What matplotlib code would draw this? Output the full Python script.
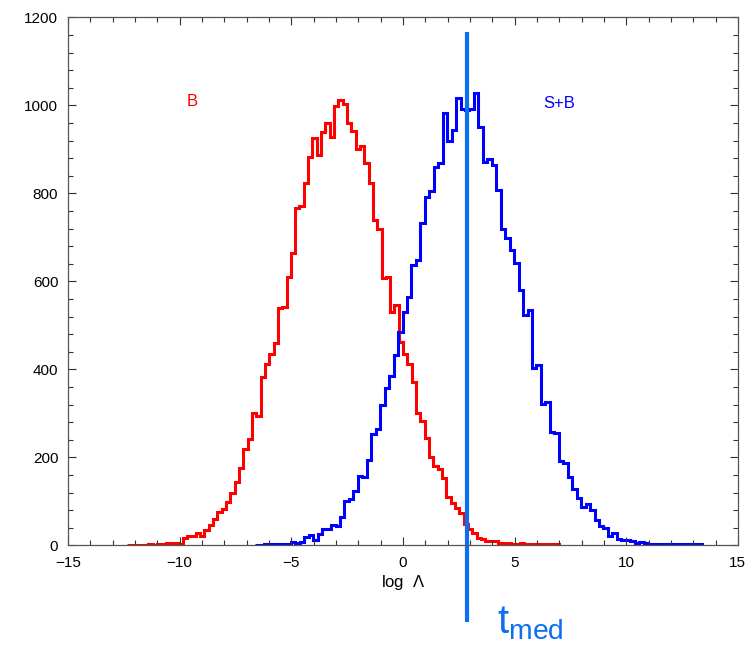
import numpy as np
import matplotlib
matplotlib.use("Agg")
import matplotlib.pyplot as plt

plt.rcParams['font.family'] = ['Liberation Sans', 'DejaVu Sans']
plt.rcParams['mathtext.fontset'] = 'custom'
plt.rcParams['mathtext.rm'] = 'Liberation Sans'

# bin edges of the two histograms (100 bins each)
b_edges = np.linspace(-12.37, 6.97, 101)
sb_edges = np.linspace(-6.62, 13.38, 101)

# counts, background only (B)
b_counts = [1, 1, 0, 1, 1, 2, 1, 2, 2, 5,
            6, 5, 3, 16, 20, 21, 28, 20, 35, 45,
            59, 76, 82, 99, 120, 145, 175, 218, 241, 300,
            294, 383, 412, 435, 461, 539, 541, 611, 665, 768,
            772, 823, 883, 927, 887, 940, 960, 929, 998, 1012,
            1003, 960, 942, 902, 908, 870, 824, 739, 719, 607,
            610, 530, 546, 463, 436, 412, 372, 301, 283, 243,
            201, 180, 173, 152, 110, 97, 84, 73, 48, 38,
            27, 16, 14, 10, 9, 10, 6, 6, 5, 3,
            4, 5, 3, 3, 2, 3, 2, 2, 4, 3]

# counts, signal + background (S+B)
sb_counts = [1, 1, 2, 2, 2, 3, 3, 4, 8, 5,
             8, 18, 23, 12, 25, 38, 38, 46, 43, 64,
             101, 106, 124, 157, 156, 195, 253, 264, 319, 357,
             385, 432, 484, 531, 565, 637, 648, 733, 792, 806,
             859, 870, 982, 919, 945, 1016, 993, 990, 993, 1029,
             951, 872, 879, 864, 808, 720, 698, 671, 642, 580,
             523, 536, 404, 411, 322, 325, 258, 255, 192, 188,
             156, 127, 107, 88, 94, 80, 57, 44, 39, 21,
             29, 14, 12, 12, 10, 6, 8, 6, 4, 3,
             4, 3, 2, 2, 2, 4, 3, 2, 2, 2]

t_med = 2.87
med_color = '#0b6ff2'

fig = plt.figure(figsize=(7.56, 6.48), dpi=100)
ax = fig.add_axes([0.09, 0.1585, 0.886, 0.8145])

ax.stairs(b_counts, b_edges, color='#ff0000', linewidth=2.2)
ax.stairs(sb_counts, sb_edges, color='#0000ff', linewidth=2.2)

ax.set_xlim(-15, 15)
ax.set_ylim(0, 1200)
ax.set_xticks(np.arange(-15, 16, 5))
ax.set_xticks(np.arange(-15, 16, 1), minor=True)
ax.set_yticks(np.arange(0, 1201, 200))
ax.set_yticks(np.arange(0, 1201, 40), minor=True)
ax.tick_params(which='both', direction='in', top=True, right=True,
               labelsize=11, color='#333333')
ax.tick_params(which='major', length=6, width=0.8)
ax.tick_params(which='minor', length=3.5, width=0.8)
ax.tick_params(axis='x', which='major', pad=8)
ax.tick_params(axis='y', which='major', pad=7)
for s in ax.spines.values():
    s.set_color('#555555')
    s.set_linewidth(0.9)

ax.set_xlabel(r'log  $\Lambda$', fontsize=12, labelpad=2)

ax.text(-9.45, 1010, 'B', color='#ff0000', fontsize=12, ha='center', va='center')
ax.text(7.0, 1005, 'S+B', color='#0000ff', fontsize=12, ha='center', va='center')

# median line of S+B, running past the axes
ax.plot([t_med, t_med], [1167, -174], color=med_color, linewidth=3.0,
        clip_on=False, solid_capstyle='butt')
ax.text(4.2, -200, r'$\mathregular{t_{med}}$', color=med_color, fontsize=29,
        ha='left', va='baseline', clip_on=False)

fig.savefig('out.png', dpi=100)
